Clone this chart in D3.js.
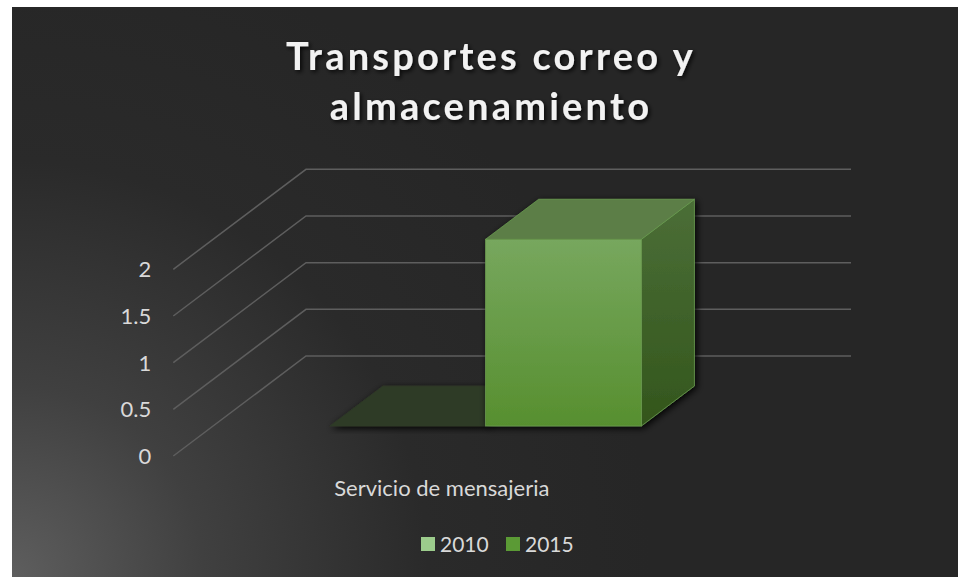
<!DOCTYPE html>
<html>
<head>
<meta charset="utf-8">
<script src="https://cdn.jsdelivr.net/npm/d3@7"></script>
<style>
  html, body { margin: 0; padding: 0; background: #fff; }
  svg { display: block; }
  text { font-family: Lato, "Open Sans", sans-serif; }
</style>
</head>
<body>
<div id="chart"></div>
<script>
// data
const categories = ["Servicio de mensajeria"];
const seriesNames = ["2010", "2015"];
const values2010 = [0];
const values2015 = [2];
const yTicks = [0, 0.5, 1, 1.5, 2];
const titleLines = ["Transportes correo y", "almacenamiento"];

const width = 958, height = 577;

const svg = d3.select("#chart").append("svg")
  .attr("width", width).attr("height", height);
const defs = svg.append("defs");

// background
const bg = defs.append("radialGradient").attr("id", "bg")
  .attr("gradientUnits", "userSpaceOnUse")
  .attr("cx", 12).attr("cy", 577).attr("r", 640);
bg.append("stop").attr("offset", "0%").attr("stop-color", "#5e5e5e");
bg.append("stop").attr("offset", "30%").attr("stop-color", "#404040");
bg.append("stop").attr("offset", "65%").attr("stop-color", "#2a2a2a");
bg.append("stop").attr("offset", "100%").attr("stop-color", "#262626");
svg.append("rect").attr("x", 12).attr("y", 7)
  .attr("width", width - 12).attr("height", height - 7)
  .attr("fill", "url(#bg)");

// shadows
const sh = defs.append("filter").attr("id", "shadow")
  .attr("x", "-20%").attr("y", "-20%").attr("width", "140%").attr("height", "140%");
sh.append("feDropShadow").attr("dx", 2).attr("dy", 2).attr("stdDeviation", 3.5)
  .attr("flood-color", "#000").attr("flood-opacity", 0.95);
const tsh = defs.append("filter").attr("id", "tshadow")
  .attr("x", "-10%").attr("y", "-30%").attr("width", "120%").attr("height", "160%");
tsh.append("feDropShadow").attr("dx", 2).attr("dy", 2).attr("stdDeviation", 2)
  .attr("flood-color", "#000").attr("flood-opacity", 0.8);

// title
svg.append("g").attr("filter", "url(#tshadow)")
  .selectAll("text").data(titleLines).enter().append("text")
  .attr("x", 491).attr("y", (d, i) => 70 + i * 50)
  .attr("text-anchor", "middle")
  .attr("font-size", 38).attr("font-weight", "bold")
  .attr("letter-spacing", 3.2)
  .attr("fill", "#f2f2f2")
  .text(d => d);

// 3d projection: t = 0 back wall, t = 1 front edge
const DX = 132.7, DY = 100;
const P = (xb, yb, t) => [xb - DX * t, yb + DY * t];

const x = d3.scaleBand().domain(categories).range([306, 851])
  .paddingInner(0).paddingOuter(0.375);
const xs = d3.scaleBand().domain(seriesNames).range([0, x.bandwidth()]);
const y = d3.scaleLinear().domain([0, 2]).range([356, 169.3]);

// gridlines
svg.append("g").selectAll("polyline").data(yTicks).enter().append("polyline")
  .attr("points", d => [P(x.range()[0], y(d), 1), P(x.range()[0], y(d), 0), P(x.range()[1], y(d), 0)]
    .map(p => p.join(",")).join(" "))
  .attr("fill", "none").attr("stroke", "#5e5e5e").attr("stroke-width", 1.5);

// tick labels
svg.append("g").selectAll("text").data(yTicks).enter().append("text")
  .attr("x", P(x.range()[0], 0, 1)[0] - 22)
  .attr("y", d => y(d) + DY + 8)
  .attr("text-anchor", "end")
  .attr("font-size", 22).attr("fill", "#d9d9d9")
  .text(d => d);

// category label
svg.append("g").selectAll("text").data(categories).enter().append("text")
  .attr("x", d => P(x(d) + x.bandwidth() / 2, 0, 1)[0] - 4)
  .attr("y", 496)
  .attr("text-anchor", "middle")
  .attr("font-size", 22).attr("fill", "#d9d9d9")
  .text(d => d);

// bar colours
const grads = [
  ["front2015", "#77a75e", "#578f2f"],
  ["side2015", "#4b6e37", "#33561c"]
];
grads.forEach(([id, c0, c1]) => {
  const g = defs.append("linearGradient").attr("id", id)
    .attr("x1", 0).attr("y1", 0).attr("x2", 0).attr("y2", 1);
  g.append("stop").attr("offset", "0%").attr("stop-color", c0);
  g.append("stop").attr("offset", "100%").attr("stop-color", c1);
});
const style = {
  "2010": { front: "#9ccc8c", side: "#6a9a58", top: "#2e3a27", stroke: "#2e3a27" },
  "2015": { front: "url(#front2015)", side: "url(#side2015)", top: "#5b7e46", stroke: "#6a9a50" }
};

const barData = [];
categories.forEach((c, ci) => {
  barData.push({ cat: c, s: "2010", v: values2010[ci] });
  barData.push({ cat: c, s: "2015", v: values2015[ci] });
});

const tF = 0.7, tB = 0.3;
const pts = a => a.map(p => p.join(",")).join(" ");
const bars = svg.append("g").selectAll("g").data(barData).enter().append("g")
  .attr("filter", "url(#shadow)");
bars.each(function (d) {
  const g = d3.select(this);
  const x0 = x(d.cat) + xs(d.s), x1 = x0 + xs.bandwidth();
  const yt = y(d.v), yb = y(0);
  const st = style[d.s];
  if (yb - yt > 0.5) {
    g.append("polygon")
      .attr("points", pts([P(x1, yt, tF), P(x1, yt, tB), P(x1, yb, tB), P(x1, yb, tF)]))
      .attr("fill", st.side).attr("stroke", st.stroke).attr("stroke-width", 0.8);
    const a = P(x0, yt, tF), b = P(x1, yb, tF);
    g.append("rect").attr("x", a[0]).attr("y", a[1])
      .attr("width", b[0] - a[0]).attr("height", b[1] - a[1])
      .attr("fill", st.front).attr("stroke", st.stroke).attr("stroke-width", 0.8);
  }
  g.append("polygon")
    .attr("points", pts([P(x0, yt, tB), P(x1, yt, tB), P(x1, yt, tF), P(x0, yt, tF)]))
    .attr("fill", st.top).attr("stroke", st.stroke).attr("stroke-width", 0.8);
});

// legend
const legColors = { "2010": "#9ccc8c", "2015": "#5b9a35" };
const leg = svg.append("g");
const legX = [421, 506];
seriesNames.forEach((s, i) => {
  leg.append("rect").attr("x", legX[i]).attr("y", 537).attr("width", 14).attr("height", 14)
    .attr("fill", legColors[s]);
  leg.append("text").attr("x", legX[i] + 19).attr("y", 552)
    .attr("font-size", 21).attr("fill", "#d9d9d9").text(s);
});
</script>
</body>
</html>
